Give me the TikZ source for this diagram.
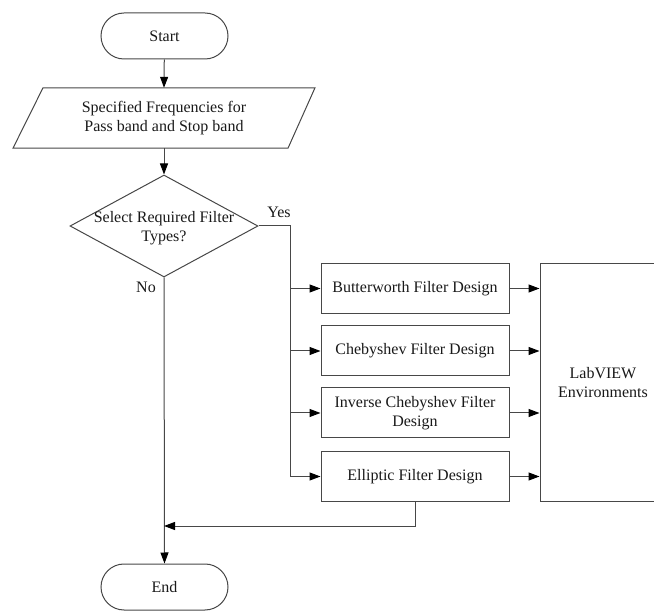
\documentclass[tikz,border=0pt]{standalone}
\usepackage{fontspec}
\setmainfont{Liberation Serif}
\usetikzlibrary{arrows.meta,shapes.geometric}
\begin{document}
\begin{tikzpicture}[x=1pt,y=-1pt,
  every node/.style={font=\fontsize{16}{19}\selectfont, align=center, text=black!90},
  line/.style={draw=black!72, line width=1pt},
  arr/.style={line, -{Triangle[length=11pt,width=8pt,color=black]}},
  term/.style={draw=black!72, line width=1pt, rounded corners=23pt, minimum width=127pt, minimum height=46pt, inner sep=0pt},
  box/.style={draw=black!72, line width=1pt, minimum width=188pt, minimum height=50pt, inner sep=0pt},
  plain/.style={inner sep=0pt}]
\useasboundingbox (0,0) rectangle (654,612);

\node[term] (start) at (164.5,36) {Start};
\node[plain, minimum width=260pt, minimum height=60pt] (input) at (164,118) {Specified Frequencies for\\Pass band and Stop band};
\draw[line] ([xshift=-121pt]input.north) -- ([xshift=151pt]input.north) -- ([xshift=124pt]input.south) -- ([xshift=-151pt]input.south) -- cycle;

\node[diamond, draw=black!72, line width=1pt, minimum width=188pt, minimum height=102pt, inner sep=0pt] (dec) at (164,226) {};
\node[plain] (dectext) at (164,228) {Select Required Filter\\Types?};

\node[box] (b1) at (415,288.5) {Butterworth Filter Design};
\node[box] (b2) at (415,351) {Chebyshev Filter Design};
\node[box] (b3) at (415,413) {Inverse Chebyshev Filter\\Design};
\node[box] (b4) at (415,476.5) {Elliptic Filter Design};

\node[box, minimum width=126pt, minimum height=238pt] (lab) at (603,383) {LabVIEW\\Environments};

\node[term] (end) at (164.5,587) {End};

\node[plain] (yes) at (279,212) {Yes};
\node[plain] (no) at (146,287) {No};

\coordinate (ybus) at (290,226);
\coordinate (ret) at (164,526);

\draw[arr] (start) -- (input.north);
\draw[arr] (input.south) -- (dec.north);
\draw[arr] (dec.east) -- (ybus) |- (b4.west);
\draw[arr] (b1.west -| ybus) -- (b1.west);
\draw[arr] (b2.west -| ybus) -- (b2.west);
\draw[arr] (b3.west -| ybus) -- (b3.west);
\draw[arr] (b1.east) -- (b1.east -| lab.west);
\draw[arr] (b2.east) -- (b2.east -| lab.west);
\draw[arr] (b3.east) -- (b3.east -| lab.west);
\draw[arr] (b4.east) -- (b4.east -| lab.west);
\draw[arr] (dec.south) -- (end.north);
\draw[arr] (b4.south) |- (ret);
\end{tikzpicture}
\end{document}
